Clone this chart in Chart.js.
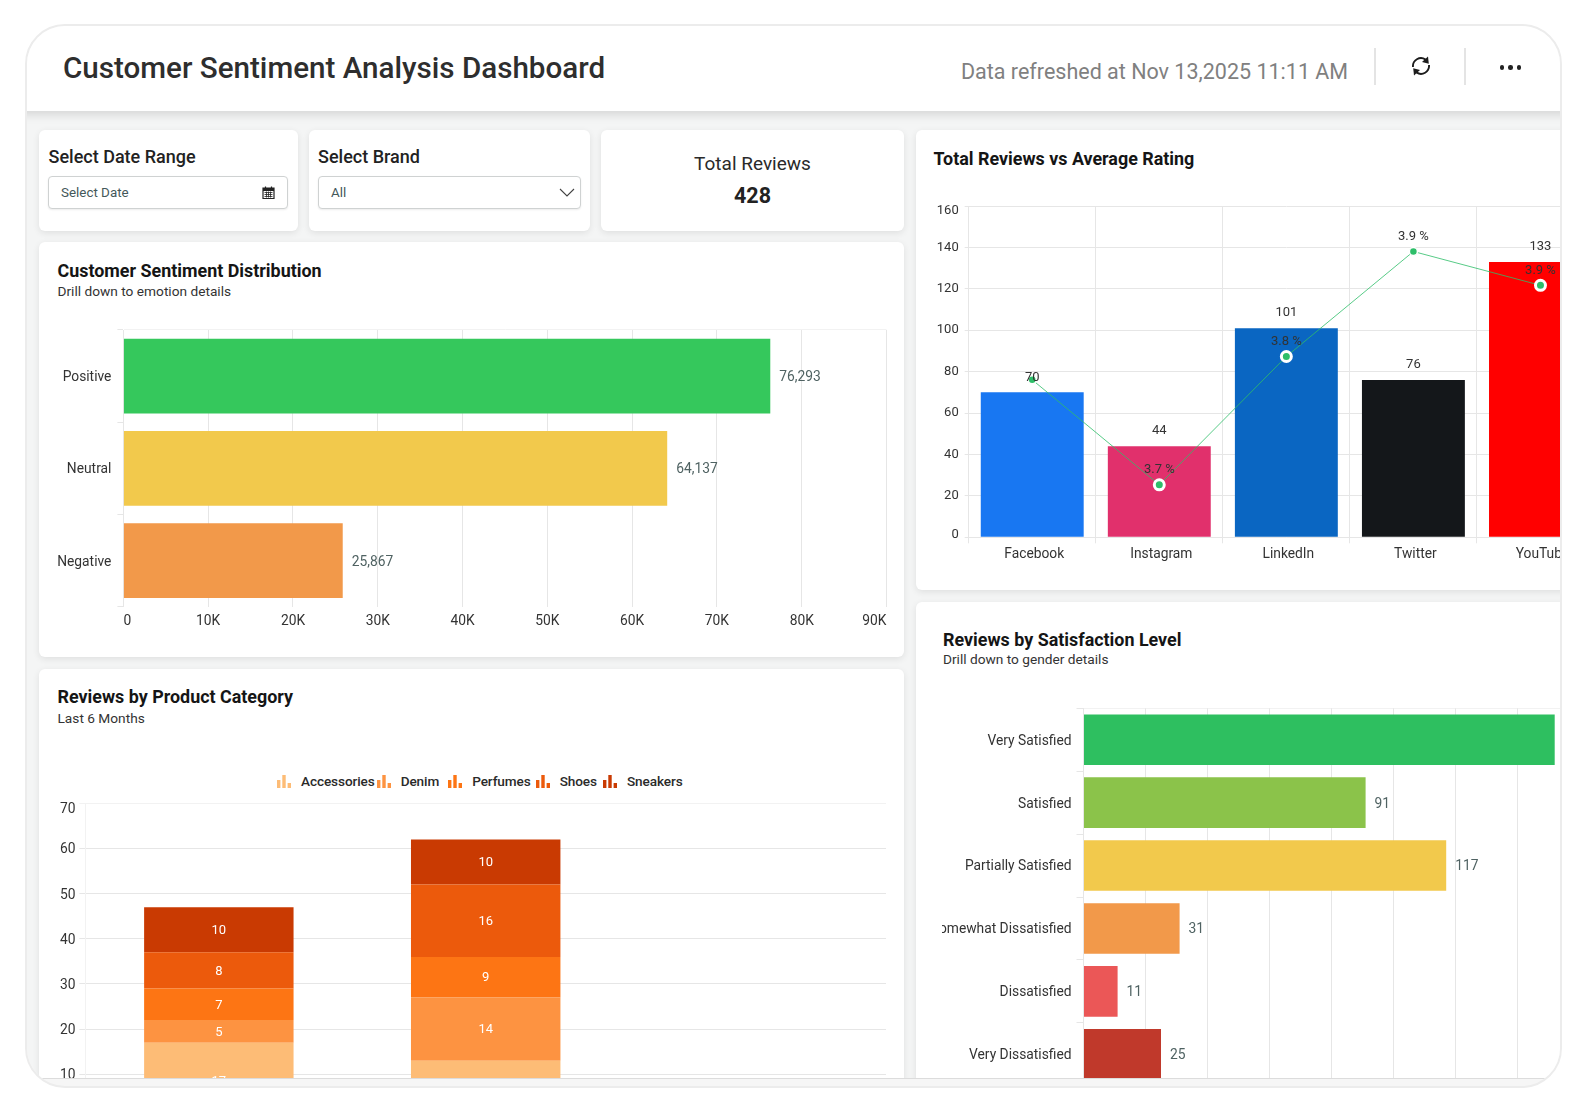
<!DOCTYPE html>
<html lang="en">
<head>
<meta charset="utf-8" />
<title>Customer Sentiment Analysis Dashboard</title>
<style>
html,body{margin:0;padding:0;background:#fff;font-family:Roboto,Arial,sans-serif;color:#222;}
body{width:1586px;height:1112px;overflow:hidden;position:relative;}

/* rounded device frame, everything inside is placed in page coordinates */
#frame{position:absolute;left:24.5px;top:24px;width:1537px;height:1064px;box-sizing:border-box;
    border:2px solid #ececec;border-radius:40px;overflow:hidden;background:#f6f6f6;}
#sheet{position:absolute;left:-26.5px;top:-26px;width:1586px;height:1112px;}
#body{position:absolute;left:0;top:0;width:1586px;height:1112px;clip-path:inset(110px 0 34px 0);background:#f4f5f5;}
#header{position:absolute;left:0;top:24px;width:1586px;height:87px;background:#fff;box-shadow:0 3px 10px rgba(0,0,0,.14);z-index:3;}
#footline{position:absolute;left:0;top:1078px;width:1586px;height:1px;background:#dcdcdc;}

.abs{position:absolute;white-space:nowrap;}
.card{position:absolute;background:#fff;border-radius:6px;box-shadow:0 2px 7px rgba(0,0,0,.09);}
canvas{position:absolute;}

#title{left:63px;font-size:29.6px;line-height:38px;font-weight:500;color:#2e2e2e;}
#refreshed{left:961px;font-size:21.5px;line-height:28px;color:#808080;}
.sep{position:absolute;top:24px;width:2px;height:37px;background:#e4e4e4;}
.dot{position:absolute;width:4.5px;height:4.5px;border-radius:50%;background:#222;}

.flabel{font-size:18px;line-height:22px;font-weight:500;color:#222;}
.field{position:absolute;top:176px;height:33px;box-sizing:border-box;background:#fff;border:1px solid #cfd2d2;border-radius:4px;
    box-shadow:0 1px 2px rgba(0,0,0,.08);font-size:13.4px;line-height:31px;color:#44585a;padding-left:12px;}
.ctitle{font-size:17.9px;line-height:22px;font-weight:700;color:#151515;}
.csub{font-size:13.7px;line-height:16px;color:#333;}

#legend{position:absolute;left:277px;top:772px;display:flex;align-items:center;height:18px;font-size:13.6px;font-weight:500;color:#2a2a2a;letter-spacing:-.1px;}
#legend .item{display:flex;align-items:center;gap:10px;margin-right:5px;}
#legend .item:nth-child(1){margin-right:2px;}
#legend .item:nth-child(2){margin-right:9px;}
#legend .item:nth-child(4){margin-right:6px;}
#legend svg{display:block;}

#sentimentChart{left:45px;top:325px;}
#ratingChart{left:925px;top:196px;}
#productChart{left:45px;top:795px;}
#satisfactionChart{left:942px;top:700px;}
</style>
</head>
<body>
<div id="frame"><div id="sheet">
    <div id="body">
        <!-- filter row -->
        <div class="card" style="left:39px;top:129.5px;width:259px;height:101.5px"></div>
        <div class="abs flabel" style="left:48.5px;top:146px">Select Date Range</div>
        <div class="field" style="left:48px;width:240px">Select Date
            <svg class="abs" style="right:12px;top:9px" width="13" height="13" viewBox="0 0 13 13">
                <path d="M1 2h11v10.5H1z" fill="none" stroke="#222" stroke-width="1.2"/>
                <path d="M1 2h11v3H1z" fill="#222"/><path d="M3.5 .5v2M9.5 .5v2" stroke="#222" stroke-width="1.2"/>
                <path d="M2.5 6.5h8M2.5 8.5h8M2.5 10.5h8M4.5 5.5v6M6.5 5.5v6M8.5 5.5v6" stroke="#222" stroke-width=".8"/>
            </svg>
        </div>

        <div class="card" style="left:309px;top:129.5px;width:281px;height:101.5px"></div>
        <div class="abs flabel" style="left:318px;top:146px">Select Brand</div>
        <div class="field" style="left:318px;width:263px">All
            <svg class="abs" style="right:5px;top:11px" width="16" height="10" viewBox="0 0 16 10">
                <path d="M1 1l7 7 7-7" fill="none" stroke="#444" stroke-width="1.1"/>
            </svg>
        </div>

        <div class="card" style="left:601px;top:129.5px;width:303px;height:101.5px"></div>
        <div class="abs" style="left:601px;width:303px;top:152px;text-align:center;font-size:19px;line-height:23px;color:#2a2a2a">Total Reviews</div>
        <div class="abs" style="left:601px;width:303px;top:182px;text-align:center;font-size:21.5px;line-height:27px;font-weight:700;color:#222">428</div>

        <!-- chart cards -->
        <div class="card" style="left:39px;top:242px;width:865px;height:415px"></div>
        <div class="abs ctitle" style="left:57.5px;top:260px">Customer Sentiment Distribution</div>
        <div class="abs csub" style="left:57.5px;top:283px">Drill down to emotion details</div>
        <canvas id="sentimentChart" width="843" height="308"></canvas>

        <div class="card" style="left:39px;top:669px;width:865px;height:460px"></div>
        <div class="abs ctitle" style="left:57.5px;top:686px">Reviews by Product Category</div>
        <div class="abs csub" style="left:57.5px;top:710px">Last 6 Months</div>
        <div id="legend"></div>
        <canvas id="productChart" width="843" height="350"></canvas>

        <div class="card" style="left:916px;top:129.5px;width:700px;height:460.5px"></div>
        <div class="abs ctitle" style="left:933.5px;top:148px">Total Reviews vs Average Rating</div>
        <canvas id="ratingChart" width="687" height="372"></canvas>

        <div class="card" style="left:916px;top:602px;width:700px;height:560px"></div>
        <div class="abs ctitle" style="left:943px;top:629px">Reviews by Satisfaction Level</div>
        <div class="abs csub" style="left:943px;top:651px">Drill down to gender details</div>
        <canvas id="satisfactionChart" width="640" height="411"></canvas>
    </div>
    <div id="footline"></div>

    <div id="header">
        <div class="abs" id="title" style="top:25px">Customer Sentiment Analysis Dashboard</div>
        <div class="abs" id="refreshed" style="top:33.5px">Data refreshed at Nov 13,2025 11:11 AM</div>
        <div class="sep" style="left:1374px"></div>
        <svg class="abs" style="left:1410.5px;top:32px" width="20" height="20" viewBox="0 0 20 20">
            <path d="M2 11A8 8 0 0 1 14.5 3.6" fill="none" stroke="#1c1c1c" stroke-width="1.9"/>
            <path d="M18 9A8 8 0 0 1 5.5 16.4" fill="none" stroke="#1c1c1c" stroke-width="1.9"/>
            <path d="M17 0.5l0.8 7.2-6.8-1.6z" fill="#1c1c1c"/><path d="M3 19.5l-0.8-7.2 6.8 1.6z" fill="#1c1c1c"/>
        </svg>
        <div class="sep" style="left:1464px"></div>
        <div class="dot" style="left:1499.8px;top:41px"></div>
        <div class="dot" style="left:1508.2px;top:41px"></div>
        <div class="dot" style="left:1516.6px;top:41px"></div>
    </div>
</div></div>

<script src="https://cdn.jsdelivr.net/npm/chart.js@4.4.1"></script>
<script>
/* ─────────── data ─────────── */
const sentimentLabels = ['Positive','Neutral','Negative'];
const sentimentValues = [76293,64137,25867];
const sentimentColors = ['#35c85c','#f2c94c','#f2994a'];

const platforms     = ['Facebook','Instagram','LinkedIn','Twitter','YouTube'];
const platformCount = [70,44,101,76,133];
const platformColor = ['#1877f2','#e1306c','#0a66c2','#14171a','#ff0000'];
const avgRating     = [3.79,3.7,3.81,3.9,3.871];

const productPeriods = ['Sep','Oct','Nov'];
const productNames   = ['Accessories','Denim','Perfumes','Shoes','Sneakers'];
const productColors  = ['#fdbc76','#fd9341','#fd7514','#ec5a0c','#c93a02'];
const accessories = [17,13,null];
const denim       = [5,14,null];
const perfumes    = [7,9,null];
const shoes       = [8,16,null];
const sneakers    = [10,10,null];

const satisfactionLabels = ['Very Satisfied','Satisfied','Partially Satisfied','Somewhat Dissatisfied','Dissatisfied','Very Dissatisfied'];
const satisfactionValues = [152,91,117,31,11,25];
const satisfactionColors = ['#2ebf60','#8bc34a','#f2c94c','#f2994a','#eb5757','#c0392b'];

/* ─────────── shared setup ─────────── */
const GRID = '#e6e6e6', EDGE = '#f2f2f2';

/* text on top of bars and points, each dataset picks a placement */
const valueLabels = {
    id:'valueLabels',
    afterDatasetsDraw(chart){
        const {ctx} = chart;
        ctx.save();
        ctx.textBaseline = 'middle';
        chart.data.datasets.forEach((ds,d)=>{
            if(!ds.valueLabel) return;
            const {place,color,format} = ds.valueLabel;
            chart.getDatasetMeta(d).data.forEach((el,i)=>{
                const v = ds.data[i];
                if(v==null) return;
                const text = format ? format(v,i) : String(v);
                if(text==null) return;
                ctx.fillStyle = color;
                if(place==='right'){
                    ctx.font = '13.8px Roboto';
                    ctx.textAlign = 'left';
                    ctx.fillText(text,el.x+9,el.y+1.5);
                }else if(place==='above'){
                    ctx.font = '13px Roboto';
                    ctx.textAlign = 'center';
                    ctx.fillText(text,el.x,el.y-15);
                }else{
                    ctx.font = '13px Roboto';
                    ctx.textAlign = 'center';
                    ctx.fillText(text,el.x,(el.y+el.base)/2+1);
                }
            });
        });
        ctx.restore();
    }
};

/* pulls the first/last y tick label inward so it stays clear of the plot edges */
const edgeTickLabels = {
    id:'edgeTickLabels',
    beforeDraw(chart,args,opts){
        if(opts.first===undefined && opts.last===undefined) return;
        const items = chart.scales.y.getLabelItems();
        if(opts.first) items[0].options.translation[1] += opts.first;
        if(opts.last)  items[items.length-1].options.translation[1] += opts.last;
    }
};
Chart.register(valueLabels,edgeTickLabels);
Chart.defaults.animation = false;
Chart.defaults.responsive = false;
Chart.defaults.font.family = 'Roboto';
Chart.defaults.font.size = 13.8;
Chart.defaults.color = '#333';
Chart.defaults.plugins.legend.display = false;
Chart.defaults.plugins.tooltip.enabled = false;

/* axis bands have fixed sizes so several charts can line up; the zeroed
   paddings stop tick label overhang from shrinking the plot area */
const noOverhang = s => { s.paddingTop = s.paddingBottom = s.paddingLeft = s.paddingRight = 0; };
const fixWidth  = px => s => { s.width = px; noOverhang(s); };
const fixHeight = px => s => { s.height = px; noOverhang(s); };
/* category axis of a horizontal bar: only the outer boundary lines show */
const edgeOnly = count => c => (c.index===0 || c.index===count) ? EDGE : 'transparent';

function horizontalBars(id,{labels,values,colors,max,step,axisW,axisH,pad,barPct,tickLen,tickPad,format,xFormat,xAlign}){
    return new Chart(document.getElementById(id),{
        type:'bar',
        data:{labels,datasets:[{data:values,backgroundColor:colors,barPercentage:barPct,categoryPercentage:1,
            valueLabel:{place:'right',color:'#4f6262',format}}]},
        options:{
            indexAxis:'y',
            layout:{padding:pad},
            scales:{
                y:{grid:{color:edgeOnly(labels.length),tickColor:GRID,tickLength:tickLen},border:{color:GRID},
                    ticks:{padding:tickPad,autoSkip:false,labelOffset:1.5},afterFit:fixWidth(axisW)},
                x:{min:0,max,grid:{color:GRID,drawTicks:false},border:{display:false},
                    ticks:{stepSize:step,padding:7,maxRotation:0,autoSkip:false,align:xAlign||'center',callback:xFormat},
                    afterFit:fixHeight(axisH)}
            }
        }
    });
}

/* ─────────── charts ─────────── */
horizontalBars('sentimentChart',{
    labels:sentimentLabels,values:sentimentValues,colors:sentimentColors,
    max:90000,step:10000,axisW:78.4,axisH:26.3,pad:{top:5,right:1.5},barPct:.81,
    tickLen:6,tickPad:6,format:v=>v.toLocaleString('en-US'),
    xFormat:v=>v===0?'0':(v/1000)+'K',xAlign:'inner'
});

new Chart(document.getElementById('ratingChart'),{
    type:'bar',
    data:{labels:platforms,datasets:[
        {type:'line',data:avgRating,yAxisID:'y1',order:0,tension:0,
            borderColor:'rgba(46,190,105,.8)',borderWidth:1,
            pointBackgroundColor:'#2ebe69',pointBorderColor:'#fff',
            pointRadius:[4,5,5,4,5],pointBorderWidth:[1.5,3,3,1.5,3],
            // Facebook's rating text would sit on its bar total, so it is left out
            valueLabel:{place:'above',color:'#333',format:(v,i)=>i===0?null:v.toFixed(1)+' %'}},
        {data:platformCount,yAxisID:'y',order:1,backgroundColor:platformColor,barPercentage:.81,categoryPercentage:1,
            valueLabel:{place:'above',color:'#333'}}
    ]},
    options:{
        layout:{padding:{top:10,right:1.8}},
        plugins:{edgeTickLabels:{first:-3,last:5}},
        scales:{
            y:{min:0,max:160,grid:{color:GRID,tickLength:4},border:{color:GRID},
                ticks:{stepSize:20,padding:6,font:{size:13}},afterFit:fixWidth(43.7)},
            y1:{min:3.655,max:3.939,display:false},
            x:{grid:{color:GRID,tickLength:6},border:{color:GRID},
                ticks:{padding:3,labelOffset:2,maxRotation:0,autoSkip:false},afterFit:fixHeight(30.7)}
        }
    }
});

new Chart(document.getElementById('productChart'),{
    type:'bar',
    data:{labels:productPeriods,datasets:[accessories,denim,perfumes,shoes,sneakers].map((data,i)=>({
        label:productNames[i],data,backgroundColor:productColors[i],barPercentage:.56,categoryPercentage:1,
        valueLabel:{place:'center',color:'#fff'}
    }))},
    options:{
        layout:{padding:{top:8.3,right:2}},
        plugins:{edgeTickLabels:{last:4.5}},
        scales:{
            y:{stacked:true,min:0,max:70,grid:{color:c=>c.tick&&c.tick.value===70?EDGE:GRID,tickLength:6},border:{color:EDGE},
                ticks:{stepSize:10,padding:4,labelOffset:1.5},afterFit:fixWidth(40.4)},
            x:{stacked:true,grid:{display:false},border:{color:GRID},afterFit:fixHeight(25.5)}
        }
    }
});

horizontalBars('satisfactionChart',{
    labels:satisfactionLabels,values:satisfactionValues,colors:satisfactionColors,
    max:160,step:20,axisW:141.5,axisH:25.3,pad:{top:8.3,right:2.5},barPct:.805,
    tickLen:7,tickPad:5
});

/* ─────────── legend row for the stacked chart ─────────── */
const legend = document.getElementById('legend');
productNames.forEach((name,i)=>{
    const item = document.createElement('div');
    item.className = 'item';
    item.innerHTML = `<svg width="14" height="13" viewBox="0 0 14 13" fill="${productColors[i]}">
        <rect x="0" y="5" width="3.4" height="8"/><rect x="5.3" y="0" width="3.4" height="13"/><rect x="10.6" y="8" width="3.4" height="5"/></svg>
        <span>${name}</span>`;
    legend.appendChild(item);
});
</script>
</body>
</html>
